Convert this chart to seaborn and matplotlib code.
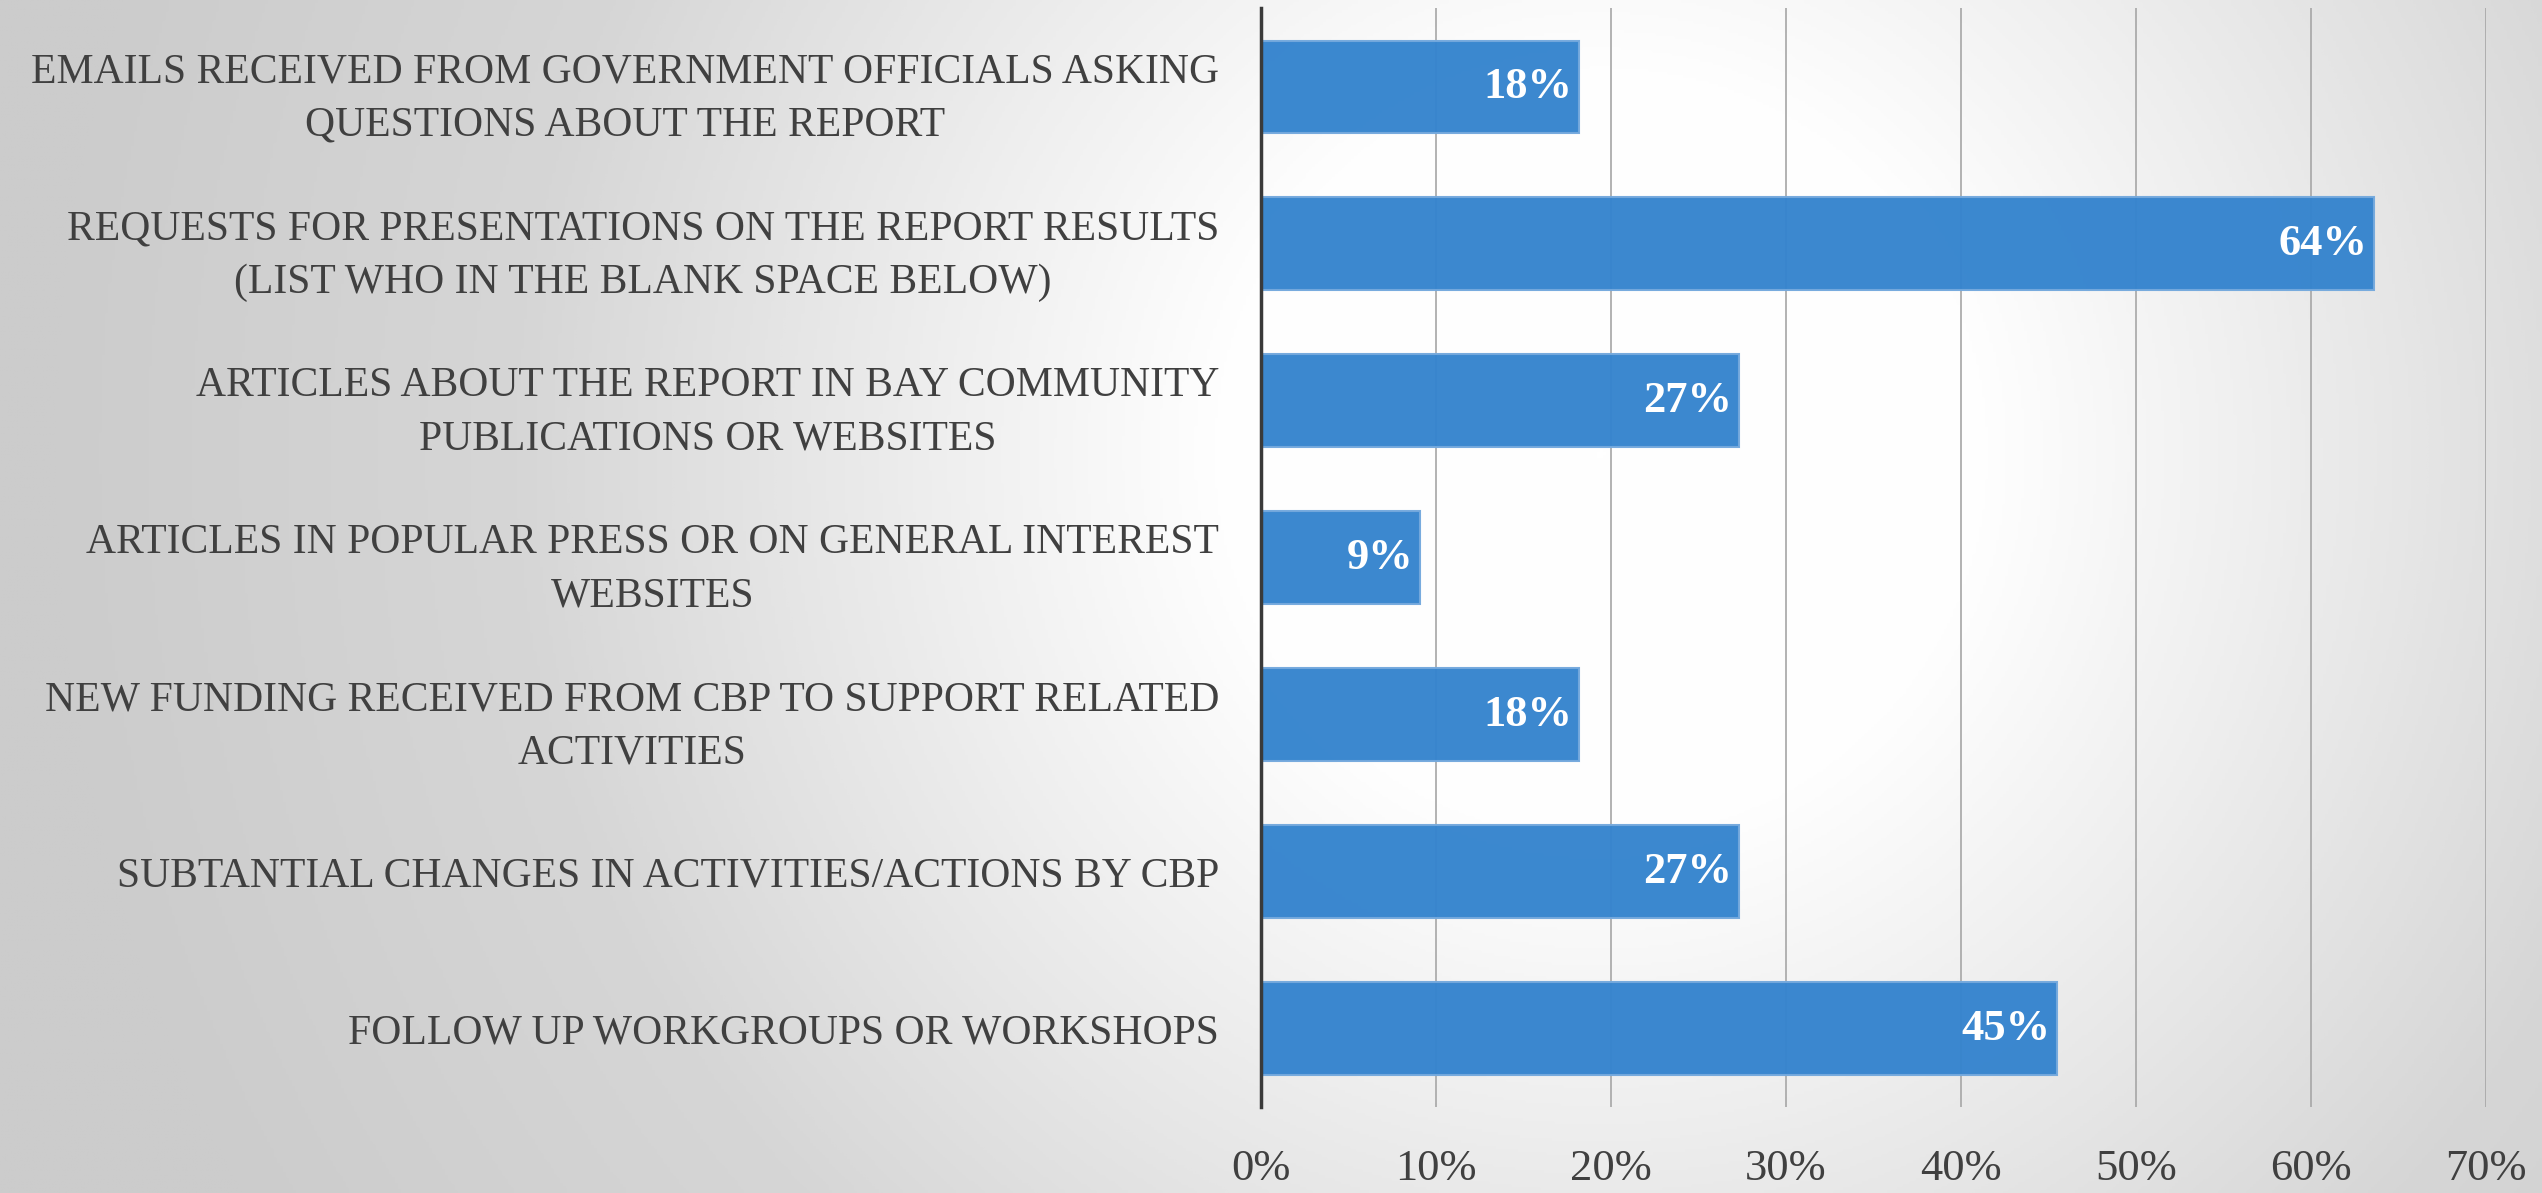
import matplotlib
matplotlib.use("Agg")
import matplotlib.pyplot as plt
import seaborn as sns
import numpy as np
import pandas as pd
from matplotlib.colors import LinearSegmentedColormap

categories = [
    "EMAILS RECEIVED FROM GOVERNMENT OFFICIALS ASKING\nQUESTIONS ABOUT THE REPORT",
    "REQUESTS FOR PRESENTATIONS ON THE REPORT RESULTS\n(LIST WHO IN THE BLANK SPACE BELOW)",
    "ARTICLES ABOUT THE REPORT IN BAY COMMUNITY\nPUBLICATIONS OR WEBSITES",
    "ARTICLES IN POPULAR PRESS OR ON GENERAL INTEREST\nWEBSITES",
    "NEW FUNDING RECEIVED FROM CBP TO SUPPORT RELATED\nACTIVITIES",
    "SUBTANTIAL CHANGES IN ACTIVITIES/ACTIONS BY CBP",
    "FOLLOW UP WORKGROUPS OR WORKSHOPS",
]
values = [0.182, 0.636, 0.273, 0.091, 0.182, 0.273, 0.455]
value_labels = ["18%", "64%", "27%", "9%", "18%", "27%", "45%"]
xticks = [0, 0.1, 0.2, 0.3, 0.4, 0.5, 0.6, 0.7]
xtick_labels = ["0%", "10%", "20%", "30%", "40%", "50%", "60%", "70%"]

sns.set_style("white")
plt.rcParams["font.family"] = ["Liberation Serif", "DejaVu Serif"]

TEXT = "#404040"
BAR = "#3584ce"

fig = plt.figure(figsize=(25.42, 11.93), dpi=100)

# radial gradient background
bg = fig.add_axes([0, 0, 1, 1], zorder=-10)
yy, xx = np.mgrid[0:1:400j, 0:1:800j]
r = np.sqrt(((xx - 0.63) * 2.13) ** 2 + (yy - 0.62) ** 2)
cmap = LinearSegmentedColormap.from_list(
    "bg", [(0, "#ffffff"), (0.25, "#fefefe"), (0.5, "#e8e8e8"),
           (0.7, "#d6d6d6"), (1, "#cccccc")])
bg.imshow(np.clip(r / 1.3, 0, 1), cmap=cmap, vmin=0, vmax=1, aspect="auto",
          extent=[0, 1, 0, 1], origin="lower")
bg.axis("off")

ax = fig.add_axes([0.496, 0.072, 0.482, 0.921])
ax.patch.set_alpha(0)

df = pd.DataFrame({"category": categories, "value": values})
sns.barplot(data=df, y="category", x="value", orient="h", color=BAR,
            saturation=1, width=0.59, ax=ax, edgecolor="#74a9dd", linewidth=1.5,
            alpha=0.97, zorder=2)

for i, (v, lab) in enumerate(zip(values, value_labels)):
    ax.text(v - 0.004, i, lab, ha="right", va="center", color="white",
            fontsize=32, fontweight="bold", zorder=3)

ax.set_xlim(0, 0.7)
ax.set_xticks(xticks)
ax.set_xticklabels(xtick_labels, fontsize=32, color=TEXT)
ax.tick_params(axis="x", length=0, pad=30)
ax.tick_params(axis="y", length=0, pad=30)
for t in ax.get_yticklabels():
    t.set_fontsize(30)
    t.set_color(TEXT)
    t.set_multialignment("center")
    t.set_linespacing(1.5)
ax.xaxis.grid(True, color="#a6a6a6", linewidth=1.2, zorder=0)
ax.set_axisbelow(True)
ax.set_xlabel("")
ax.set_ylabel("")
for s in ["top", "right", "bottom"]:
    ax.spines[s].set_visible(False)
ax.spines["left"].set_color("#3a3a3a")
ax.spines["left"].set_linewidth(2.5)
ax.spines["left"].set_zorder(4)

fig.savefig("out.png", dpi=100)
